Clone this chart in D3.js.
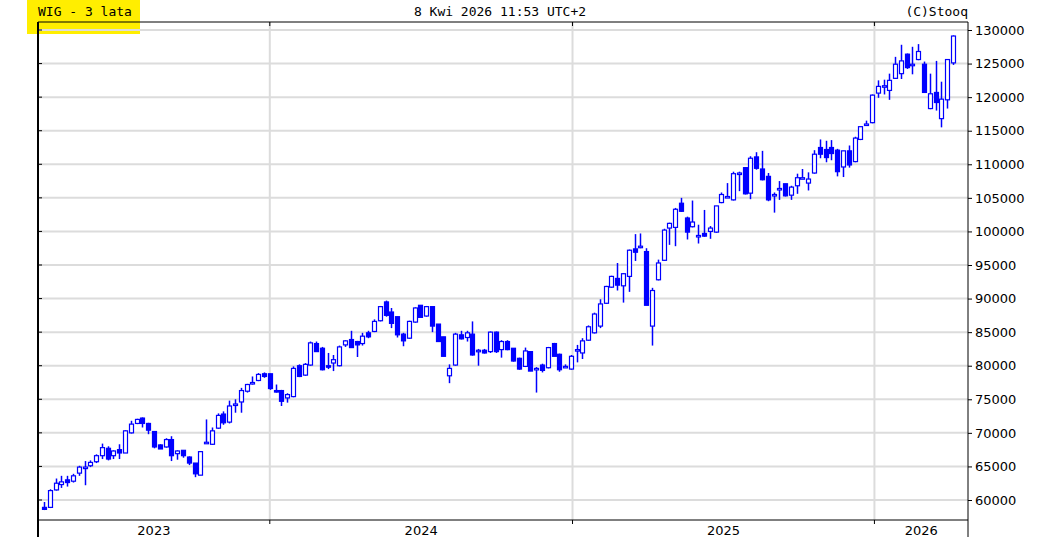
<!DOCTYPE html>
<html><head><meta charset="utf-8">
<script src="https://cdn.jsdelivr.net/npm/d3@7"></script>
<style>body{margin:0;background:#fff}</style>
</head><body><svg id="c" width="1050" height="537"></svg>
<script>
const title = "WIG - 3 lata";
const stamp = "8 Kwi 2026 11:53 UTC+2";
const credit = "(C)Stooq";
const firstWeek = "2023-04-03";
const yTicks = [60000,65000,70000,75000,80000,85000,90000,95000,100000,105000,110000,115000,120000,125000,130000];
const yearLabels = ["2023","2024","2025","2026"];
// weekly candles [open, high, low, close] in thousands
const ohlc = [
[58.9,59.7,58.5,58.6],[58.9,61.6,58.8,61.4],[61.5,63.2,61.4,62.5],[62.3,63.6,61.8,62.7],[63.0,63.6,62.0,62.6],
[62.8,63.9,62.6,63.6],[64.0,65.1,63.6,64.9],[64.8,65.8,62.2,64.9],[65.1,65.9,64.9,65.6],[65.7,66.8,65.5,66.6],
[66.6,68.4,66.1,67.8],[67.7,68.0,65.9,66.1],[66.6,67.4,66.1,67.3],[67.5,68.3,66.1,67.0],[67.0,70.4,67.0,70.3],
[70.0,71.8,69.9,71.3],[71.4,72.1,71.3,72.0],[72.2,72.3,70.8,71.4],[71.4,71.5,69.8,70.4],[70.2,70.2,67.7,67.9],
[68.2,68.3,67.6,67.6],[67.9,69.2,67.8,69.0],[69.0,69.5,65.8,66.6],[66.9,67.4,66.0,67.3],[67.4,67.4,66.3,66.6],
[66.4,66.5,65.2,65.5],[65.5,65.5,63.4,63.9],[63.7,67.3,63.7,67.2],[68.5,72.0,68.4,68.6],[68.3,70.8,68.2,70.3],
[70.7,72.9,70.6,72.6],[72.8,73.2,71.2,71.5],[71.6,74.8,71.4,74.0],[74.2,75.0,73.0,74.3],[74.6,76.7,73.0,76.3],
[76.2,77.3,76.0,77.2],[77.3,78.4,77.2,77.5],[77.8,78.9,77.7,78.7],[78.8,79.0,78.2,78.4],[78.8,78.8,76.4,76.6],
[76.3,77.2,76.0,76.2],[76.3,76.4,74.0,74.7],[75.2,75.9,74.5,75.7],[75.4,79.9,75.3,79.6],[80.0,80.2,78.3,78.4],
[78.6,80.4,78.5,80.2],[80.1,83.6,80.0,83.4],[83.3,83.6,82.1,82.1],[82.6,82.8,79.3,79.4],[80.0,81.9,79.5,79.9],
[80.4,81.6,79.2,80.9],[80.0,83.0,79.9,82.8],[83.1,83.8,82.8,83.7],[83.9,85.2,82.7,82.7],[83.6,83.7,81.3,83.1],
[83.3,84.9,83.0,84.4],[84.9,85.2,84.1,84.3],[85.1,86.9,85.0,86.6],[86.7,88.9,86.6,88.8],[89.5,89.7,87.3,87.5],
[88.0,88.6,85.6,86.3],[87.3,87.3,84.2,84.6],[84.7,84.9,82.9,83.7],[84.1,86.7,84.0,86.6],[86.5,88.7,86.4,88.6],
[89.0,89.0,87.2,87.2],[87.4,88.9,87.3,88.8],[88.8,88.8,85.0,85.9],[86.2,86.2,83.6,83.6],[84.3,84.3,81.4,81.4],
[78.5,80.2,77.4,79.6],[80.1,84.9,80.0,84.7],[84.6,85.2,83.9,84.0],[84.2,85.2,83.6,84.9],[84.7,86.6,81.5,81.6],
[82.3,82.5,80.0,82.3],[82.3,82.5,81.8,81.9],[82.1,85.1,81.9,85.0],[85.0,85.1,81.9,82.1],[82.4,83.8,81.2,83.6],
[83.6,83.8,82.3,82.4],[82.6,82.6,80.6,80.7],[81.1,81.2,79.4,79.5],[79.9,82.7,79.8,82.2],[82.1,82.1,79.2,79.2],
[79.6,79.8,76.0,79.6],[80.1,80.3,79.0,79.3],[79.7,82.8,79.6,82.7],[83.3,83.4,81.4,81.4],[81.7,81.8,79.1,79.4],
[79.9,80.2,79.7,79.9],[79.5,81.6,79.4,81.4],[82.4,83.1,80.5,82.4],[81.9,84.1,81.0,83.7],[83.8,86.0,83.7,85.8],
[84.9,87.9,84.8,87.7],[85.9,89.9,85.6,89.2],[89.3,91.9,89.2,91.8],[91.7,93.4,91.6,93.3],[93.0,95.3,91.2,92.0],
[91.9,93.8,89.4,93.7],[93.3,97.3,91.0,97.2],[97.4,99.6,95.6,96.9],[97.8,99.7,97.5,97.8],[97.0,97.5,89.0,89.0],
[85.9,91.6,83.0,91.2],[92.8,95.8,92.7,95.3],[95.7,100.4,95.6,100.2],[100.5,101.3,98.0,101.2],[100.6,103.5,97.8,103.3],
[104.2,105.0,102.9,103.0],[102.0,102.2,98.8,99.9],[100.7,104.6,100.6,101.4],[99.4,101.0,98.2,99.4],[99.7,103.2,99.2,99.3],
[100.0,100.8,98.9,100.5],[99.9,103.8,99.8,103.8],[104.3,105.8,104.2,105.5],[105.2,107.2,105.0,105.2],[104.7,108.9,104.6,108.6],
[108.7,108.9,106.0,108.7],[109.5,109.6,105.5,105.6],[105.7,111.2,104.8,110.9],[111.1,111.8,109.2,109.4],[109.3,112.0,107.6,107.7],
[108.2,108.7,104.5,104.7],[105.5,105.8,102.8,105.5],[106.4,107.5,104.7,106.4],[107.1,107.1,105.2,105.3],[105.4,106.8,104.7,106.6],
[106.8,108.6,105.6,108.0],[108.0,109.3,107.8,108.0],[107.2,108.8,106.1,107.8],[108.7,112.1,108.6,111.5],[112.5,113.7,110.9,111.5],
[112.2,113.5,110.3,111.0],[112.5,113.6,110.6,111.6],[112.1,112.3,108.2,108.9],[109.6,112.0,108.1,112.0],[112.0,112.8,109.5,109.9],
[110.4,114.1,110.3,113.9],[113.7,115.6,113.6,115.6],[116.0,116.5,115.9,116.0],[116.2,120.4,116.1,120.3],[120.6,122.5,119.9,121.6],
[121.7,122.6,120.4,121.7],[121.0,123.5,119.6,122.5],[122.8,126.0,122.7,124.9],[123.5,127.8,122.7,125.4],[126.4,126.5,124.2,124.4],
[124.9,127.5,123.4,124.9],[125.6,127.9,125.5,126.8],[124.9,125.3,120.7,120.7],[118.3,123.5,118.2,120.5],[120.7,125.4,118.0,119.2],
[116.8,122.3,115.5,119.7],[119.6,125.6,118.3,125.6],[125.1,129.2,124.8,129.1]
];

const svg = d3.select("#c");
const L=38, R=968, T=22, B=520;
const t0 = d3.timeParse("%Y-%m-%d")(firstWeek);
const data = ohlc.map((d,i)=>({date:d3.timeDay.offset(t0,7*i),o:d[0]*1000,h:d[1]*1000,l:d[2]*1000,c:d[3]*1000}));
const x = d3.scaleTime().domain([data[0].date,data[data.length-1].date]).range([44,953]);
const y = d3.scaleLinear().domain([60000,130000]).range([500,30]);
const font = "DejaVu Sans";

// header
svg.append("rect").attr("x",27).attr("y",0).attr("width",113).attr("height",34).attr("fill","#ffee00");
svg.append("text").attr("x",38).attr("y",16).text(title).attr("font-family","DejaVu Sans Mono").attr("font-size",13);
svg.append("text").attr("x",500).attr("y",16).attr("text-anchor","middle").text(stamp).attr("font-family","DejaVu Sans Mono").attr("font-size",13);
svg.append("text").attr("x",968).attr("y",16).attr("text-anchor","end").text(credit).attr("font-family","DejaVu Sans Mono").attr("font-size",13);

// grid
svg.append("g").selectAll("line").data(yTicks).join("line")
  .attr("x1",L).attr("x2",R).attr("y1",d=>y(d)).attr("y2",d=>y(d)).attr("stroke","#dcdcdc").attr("stroke-width",2);
const years = d3.timeYear.range(d3.timeYear.floor(data[0].date), d3.timeYear.offset(data[data.length-1].date,1));
const bounds = years.map(d=>x(d));
svg.append("g").selectAll("line").data(bounds.filter(v=>v>L&&v<R)).join("line")
  .attr("x1",d=>d).attr("x2",d=>d).attr("y1",T).attr("y2",B).attr("stroke","#dcdcdc").attr("stroke-width",2);

// frame
svg.append("line").attr("x1",L).attr("x2",R).attr("y1",T).attr("y2",T).attr("stroke","#000");
svg.append("line").attr("x1",L).attr("x2",R).attr("y1",B).attr("y2",B).attr("stroke","#000");
svg.append("line").attr("x1",L).attr("x2",L).attr("y1",T).attr("y2",537).attr("stroke","#000").attr("stroke-width",2);
svg.append("line").attr("x1",R).attr("x2",R).attr("y1",T).attr("y2",537).attr("stroke","#000");

// y axis right
const ya = d3.axisRight(y).tickValues(yTicks).tickSize(4).tickFormat(d3.format("d"));
const gy = svg.append("g").attr("transform",`translate(${R},0)`).call(ya);
gy.select(".domain").remove();
gy.selectAll("text").attr("font-family",font).attr("font-size",13).attr("x",7).attr("fill","#000");
// left ticks
svg.append("g").selectAll("line").data(yTicks).join("line")
  .attr("x1",L).attr("x2",L+4).attr("y1",d=>y(d)).attr("y2",d=>y(d)).attr("stroke","#000");

// x ticks & labels
svg.append("g").selectAll("line").data(bounds.filter(v=>v>L&&v<R)).join("line")
  .attr("x1",d=>d).attr("x2",d=>d).attr("y1",B).attr("y2",B+4).attr("stroke","#000");
svg.append("g").selectAll("line").data(bounds.filter(v=>v>L&&v<R)).join("line")
  .attr("x1",d=>d).attr("x2",d=>d).attr("y1",T).attr("y2",T+4).attr("stroke","#000");
const segs = years.map((d,i)=>{const a=Math.max(L,x(d)),b=Math.min(R,x(d3.timeYear.offset(d,1)));return {a,b,label:d3.timeFormat("%Y")(d)};});
svg.append("g").selectAll("text").data(segs.filter(s=>yearLabels.includes(s.label))).join("text")
  .attr("x",s=>(s.a+s.b)/2).attr("y",535).attr("text-anchor","middle").text(s=>s.label)
  .attr("font-family",font).attr("font-size",13);

// candles
const g = svg.append("g");
const w = 4;
g.selectAll("line").data(data).join("line")
  .attr("x1",d=>Math.round(x(d.date))+0.5).attr("x2",d=>Math.round(x(d.date))+0.5)
  .attr("y1",d=>y(d.h)).attr("y2",d=>y(d.l)).attr("stroke","#0000ff").attr("stroke-width",1.5);
g.selectAll("rect").data(data).join("rect")
  .attr("x",d=>Math.round(x(d.date))+0.5-w/2).attr("width",w)
  .attr("y",d=>y(Math.max(d.o,d.c))).attr("height",d=>Math.max(1.5,Math.abs(y(d.o)-y(d.c))))
  .attr("fill",d=>d.c>=d.o?"#ffffff":"#0000ff").attr("stroke","#0000ff").attr("stroke-width",1.2);
</script></body></html>
